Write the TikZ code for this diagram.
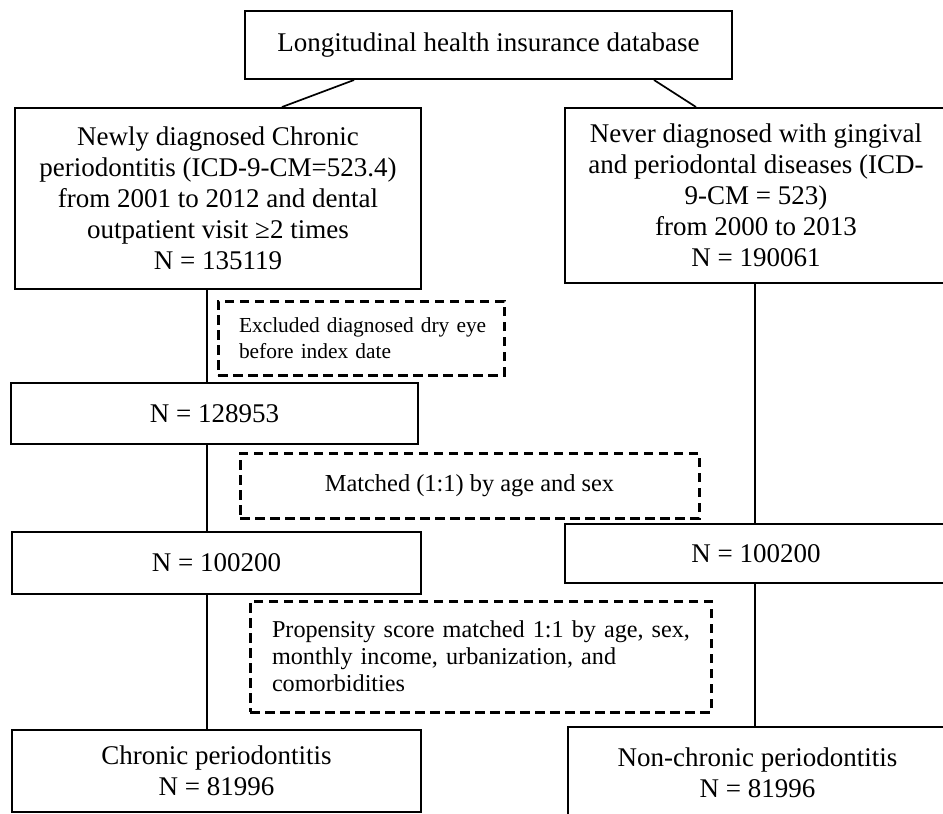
\documentclass[tikz,border=0pt]{standalone}
\usepackage{fontspec}
\setmainfont{Liberation Serif}
\tikzset{
  box/.style={draw, line width=2pt, inner sep=0pt, align=center, font=\fontsize{27}{31}\selectfont},
  dbox/.style={draw, line width=3pt, dash pattern=on 9.5pt off 5.5pt, inner sep=0pt},
  conn/.style={line width=1.7pt},
}
\begin{document}
\begin{tikzpicture}[x=1pt,y=1pt]
\useasboundingbox (0,0) rectangle (943,-814);
\node[box, minimum width=487pt, minimum height=68pt] (top) at (488.5,-45) {Longitudinal health insurance database};
\node[box, minimum width=406pt, minimum height=181pt] (L1) at (218,-198.5) {Newly diagnosed Chronic\\periodontitis (ICD-9-CM=523.4)\\from 2001 to 2012 and dental\\outpatient visit ≥2 times\\N = 135119};
\node[box, minimum width=382pt, minimum height=175pt] (R1) at (756,-195.5) {Never diagnosed with gingival\\and periodontal diseases (ICD-\\9-CM = 523)\\from 2000 to 2013\\N = 190061};
\node[dbox, minimum width=286pt, minimum height=74pt, text width=244pt, align=left, font=\fontsize{21.4}{26}\selectfont] (D1) at (361,-338) {\mbox{Excluded diagnosed dry eye}\\\mbox{before index date}};
\node[box, minimum width=407pt, minimum height=61pt] (L2) at (214.5,-413.5) {N = 128953};
\node[dbox, minimum width=459pt, minimum height=65pt, align=center, font=\fontsize{24.4}{27}\selectfont] (D2) at (469.5,-485.5) {Matched (1:1) by age and sex};
\node[box, minimum width=409pt, minimum height=62pt] (L3) at (216.5,-563) {N = 100200};
\node[box, minimum width=382pt, minimum height=59pt] (R3) at (756,-553.5) {N = 100200};
\node[dbox, minimum width=461pt, minimum height=111pt, text width=417pt, align=left, font=\fontsize{24.2}{27}\selectfont] (D3) at (480.5,-656.5) {\mbox{Propensity score matched 1:1 by age, sex,}\\\mbox{monthly income, urbanization, and}\\\mbox{comorbidities}};
\node[box, minimum width=409pt, minimum height=82pt] (L4) at (216.5,-771) {Chronic periodontitis\\N = 81996};
\node[box, minimum width=379pt, minimum height=92pt] (R4) at (757.5,-773) {Non-chronic periodontitis\\N = 81996};
\coordinate (lx) at (207,0);
\coordinate (rx) at (755,0);
\draw[conn] ([xshift=110pt]top.south west) -- ([xshift=268pt]L1.north west);
\draw[conn] ([xshift=410pt]top.south west) -- ([xshift=132pt]R1.north west);
\draw[conn] (L1.south -| lx) -- (L2.north -| lx);
\draw[conn] (L2.south -| lx) -- (L3.north -| lx);
\draw[conn] (L3.south -| lx) -- (L4.north -| lx);
\draw[conn] (R1.south -| rx) -- (R3.north -| rx);
\draw[conn] (R3.south -| rx) -- (R4.north -| rx);
\end{tikzpicture}
\end{document}
